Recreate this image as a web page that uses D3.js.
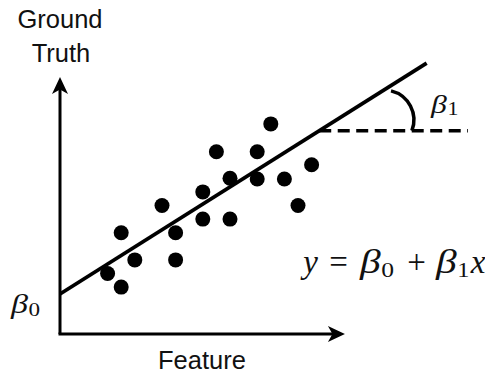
<!DOCTYPE html>
<html>
<head>
<meta charset="utf-8">
<script src="https://cdn.jsdelivr.net/npm/d3@7"></script>
<style>
  html, body { margin: 0; padding: 0; background: #fff; }
  svg { display: block; }
  .lab { font-family: "Liberation Sans", Arial, Helvetica, sans-serif; fill: #111; }
  .math { font-family: "Liberation Serif", "Times New Roman", serif; fill: #111; }
</style>
</head>
<body>
<svg id="chart" width="485" height="375"></svg>
<script>
// Observations: feature value and ground-truth value
const featureVals = [3.5, 4.5, 4.5, 5.5, 7.5, 8.5, 8.5, 10.5, 10.5, 11.5, 12.5, 12.5, 14.5, 14.5, 15.5, 16.5, 17.5, 18.5];
const truthVals   = [4.45, 3.45, 7.45, 5.45, 9.45, 7.45, 5.45, 10.45, 8.45, 13.4, 11.45, 8.45, 13.4, 11.4, 15.45, 11.4, 9.45, 12.45];

// Fitted line y = beta0 + beta1 * x
const beta0 = 2.94;
const beta1 = 0.63;
const fitXExtent = [0, 26.96];

// Axis extents (arrow tips) and the horizontal reference used to show the slope angle
const xAxisEnd = 20.95;
const yAxisEnd = 18.9;
const slopeRefStart = 19.06;
const slopeRefEnd = 30;
const angleCenter = [23.82, 15.74];
const angleRadius = 2.2;

const svg = d3.select("#chart");
const x = d3.scaleLinear().domain([0, 30]).range([60, 468]);
const y = d3.scaleLinear().domain([0, 20]).range([334, 62]);

const ink = "#000";

// Axes with arrowheads
svg.append("line")
  .attr("x1", x(0)).attr("y1", y(0))
  .attr("x2", x(0)).attr("y2", y(yAxisEnd) + 10)
  .attr("stroke", ink).attr("stroke-width", 3);
svg.append("line")
  .attr("x1", x(0) - 1.5).attr("y1", y(0))
  .attr("x2", x(xAxisEnd) - 10).attr("y2", y(0))
  .attr("stroke", ink).attr("stroke-width", 3);

const arrowShape = "M0,0 L-17,-8 L-12.5,0 L-17,8 Z";
svg.append("path")
  .attr("d", arrowShape)
  .attr("transform", `translate(${x(0)},${y(yAxisEnd)}) rotate(-90)`)
  .attr("fill", ink);
svg.append("path")
  .attr("d", arrowShape)
  .attr("transform", `translate(${x(xAxisEnd)},${y(0)})`)
  .attr("fill", ink);

// Horizontal reference for the slope angle
const refY = beta0 + beta1 * slopeRefStart;
svg.append("line")
  .attr("x1", x(slopeRefStart)).attr("y1", y(refY))
  .attr("x2", x(slopeRefEnd)).attr("y2", y(refY))
  .attr("stroke", ink).attr("stroke-width", 3.5)
  .attr("stroke-dasharray", "12,6.5");

// Angle arc
const arcR = x(angleRadius) - x(0);
const arcGen = d3.arc()
  .innerRadius(arcR).outerRadius(arcR)
  .startAngle(13.7 * Math.PI / 180)
  .endAngle(111 * Math.PI / 180);
svg.append("path")
  .attr("d", arcGen())
  .attr("transform", `translate(${x(angleCenter[0])},${y(angleCenter[1])})`)
  .attr("fill", "none").attr("stroke", ink).attr("stroke-width", 3.5);

// Regression line
svg.append("line")
  .attr("x1", x(fitXExtent[0])).attr("y1", y(beta0 + beta1 * fitXExtent[0]))
  .attr("x2", x(fitXExtent[1])).attr("y2", y(beta0 + beta1 * fitXExtent[1]))
  .attr("stroke", ink).attr("stroke-width", 3.8);

// Data points
svg.append("g").selectAll("circle")
  .data(featureVals.map((f, i) => [f, truthVals[i]]))
  .join("circle")
  .attr("cx", d => x(d[0]))
  .attr("cy", d => y(d[1]))
  .attr("r", 7.5)
  .attr("fill", ink);

// Axis titles
const yTitle = svg.append("text").attr("class", "lab")
  .attr("text-anchor", "middle").attr("font-size", 25.5);
yTitle.append("tspan").attr("x", 60).attr("y", 28).text("Ground");
yTitle.append("tspan").attr("x", 61).attr("y", 61.5).text("Truth");

svg.append("text").attr("class", "lab")
  .attr("x", 202).attr("y", 369)
  .attr("text-anchor", "middle").attr("font-size", 25.5)
  .text("Feature");

// Italic beta with an upright subscript, set as one math-style run
function betaSym(left, baseline, size, sub, subSize, subDrop) {
  const t = svg.append("text").attr("class", "math")
    .attr("transform", `translate(${left},${baseline}) scale(1.22,1)`);
  t.append("tspan")
    .attr("font-style", "italic").attr("font-size", size)
    .text("β");
  t.append("tspan")
    .attr("dx", 0.5).attr("dy", subDrop)
    .attr("font-size", subSize)
    .text(sub);
}

// Intercept label at the y-axis
betaSym(11, y(beta0) + 19, 28, "0", 19, 3);
// Slope label beside the angle
betaSym(431, 112.5, 26, "1", 18, 2.5);

// Equation y = β0 + β1 x
const eqBase = 273;
const eqSize = 33;
svg.append("text").attr("class", "math").attr("x", 310.5).attr("y", eqBase)
  .attr("text-anchor", "middle").attr("font-style", "italic").attr("font-size", eqSize).text("y");
svg.append("text").attr("class", "math").attr("x", 338.5).attr("y", eqBase)
  .attr("text-anchor", "middle").attr("font-size", eqSize).text("=");
betaSym(360, eqBase, 34, "0", 21, 3.5);
svg.append("text").attr("class", "math").attr("x", 416.5).attr("y", eqBase)
  .attr("text-anchor", "middle").attr("font-size", eqSize).text("+");
betaSym(436, eqBase, 34, "1", 20, 3.5);
svg.append("text").attr("class", "math").attr("x", 478).attr("y", eqBase)
  .attr("text-anchor", "middle").attr("font-style", "italic").attr("font-size", eqSize).text("x");
</script>
</body>
</html>
